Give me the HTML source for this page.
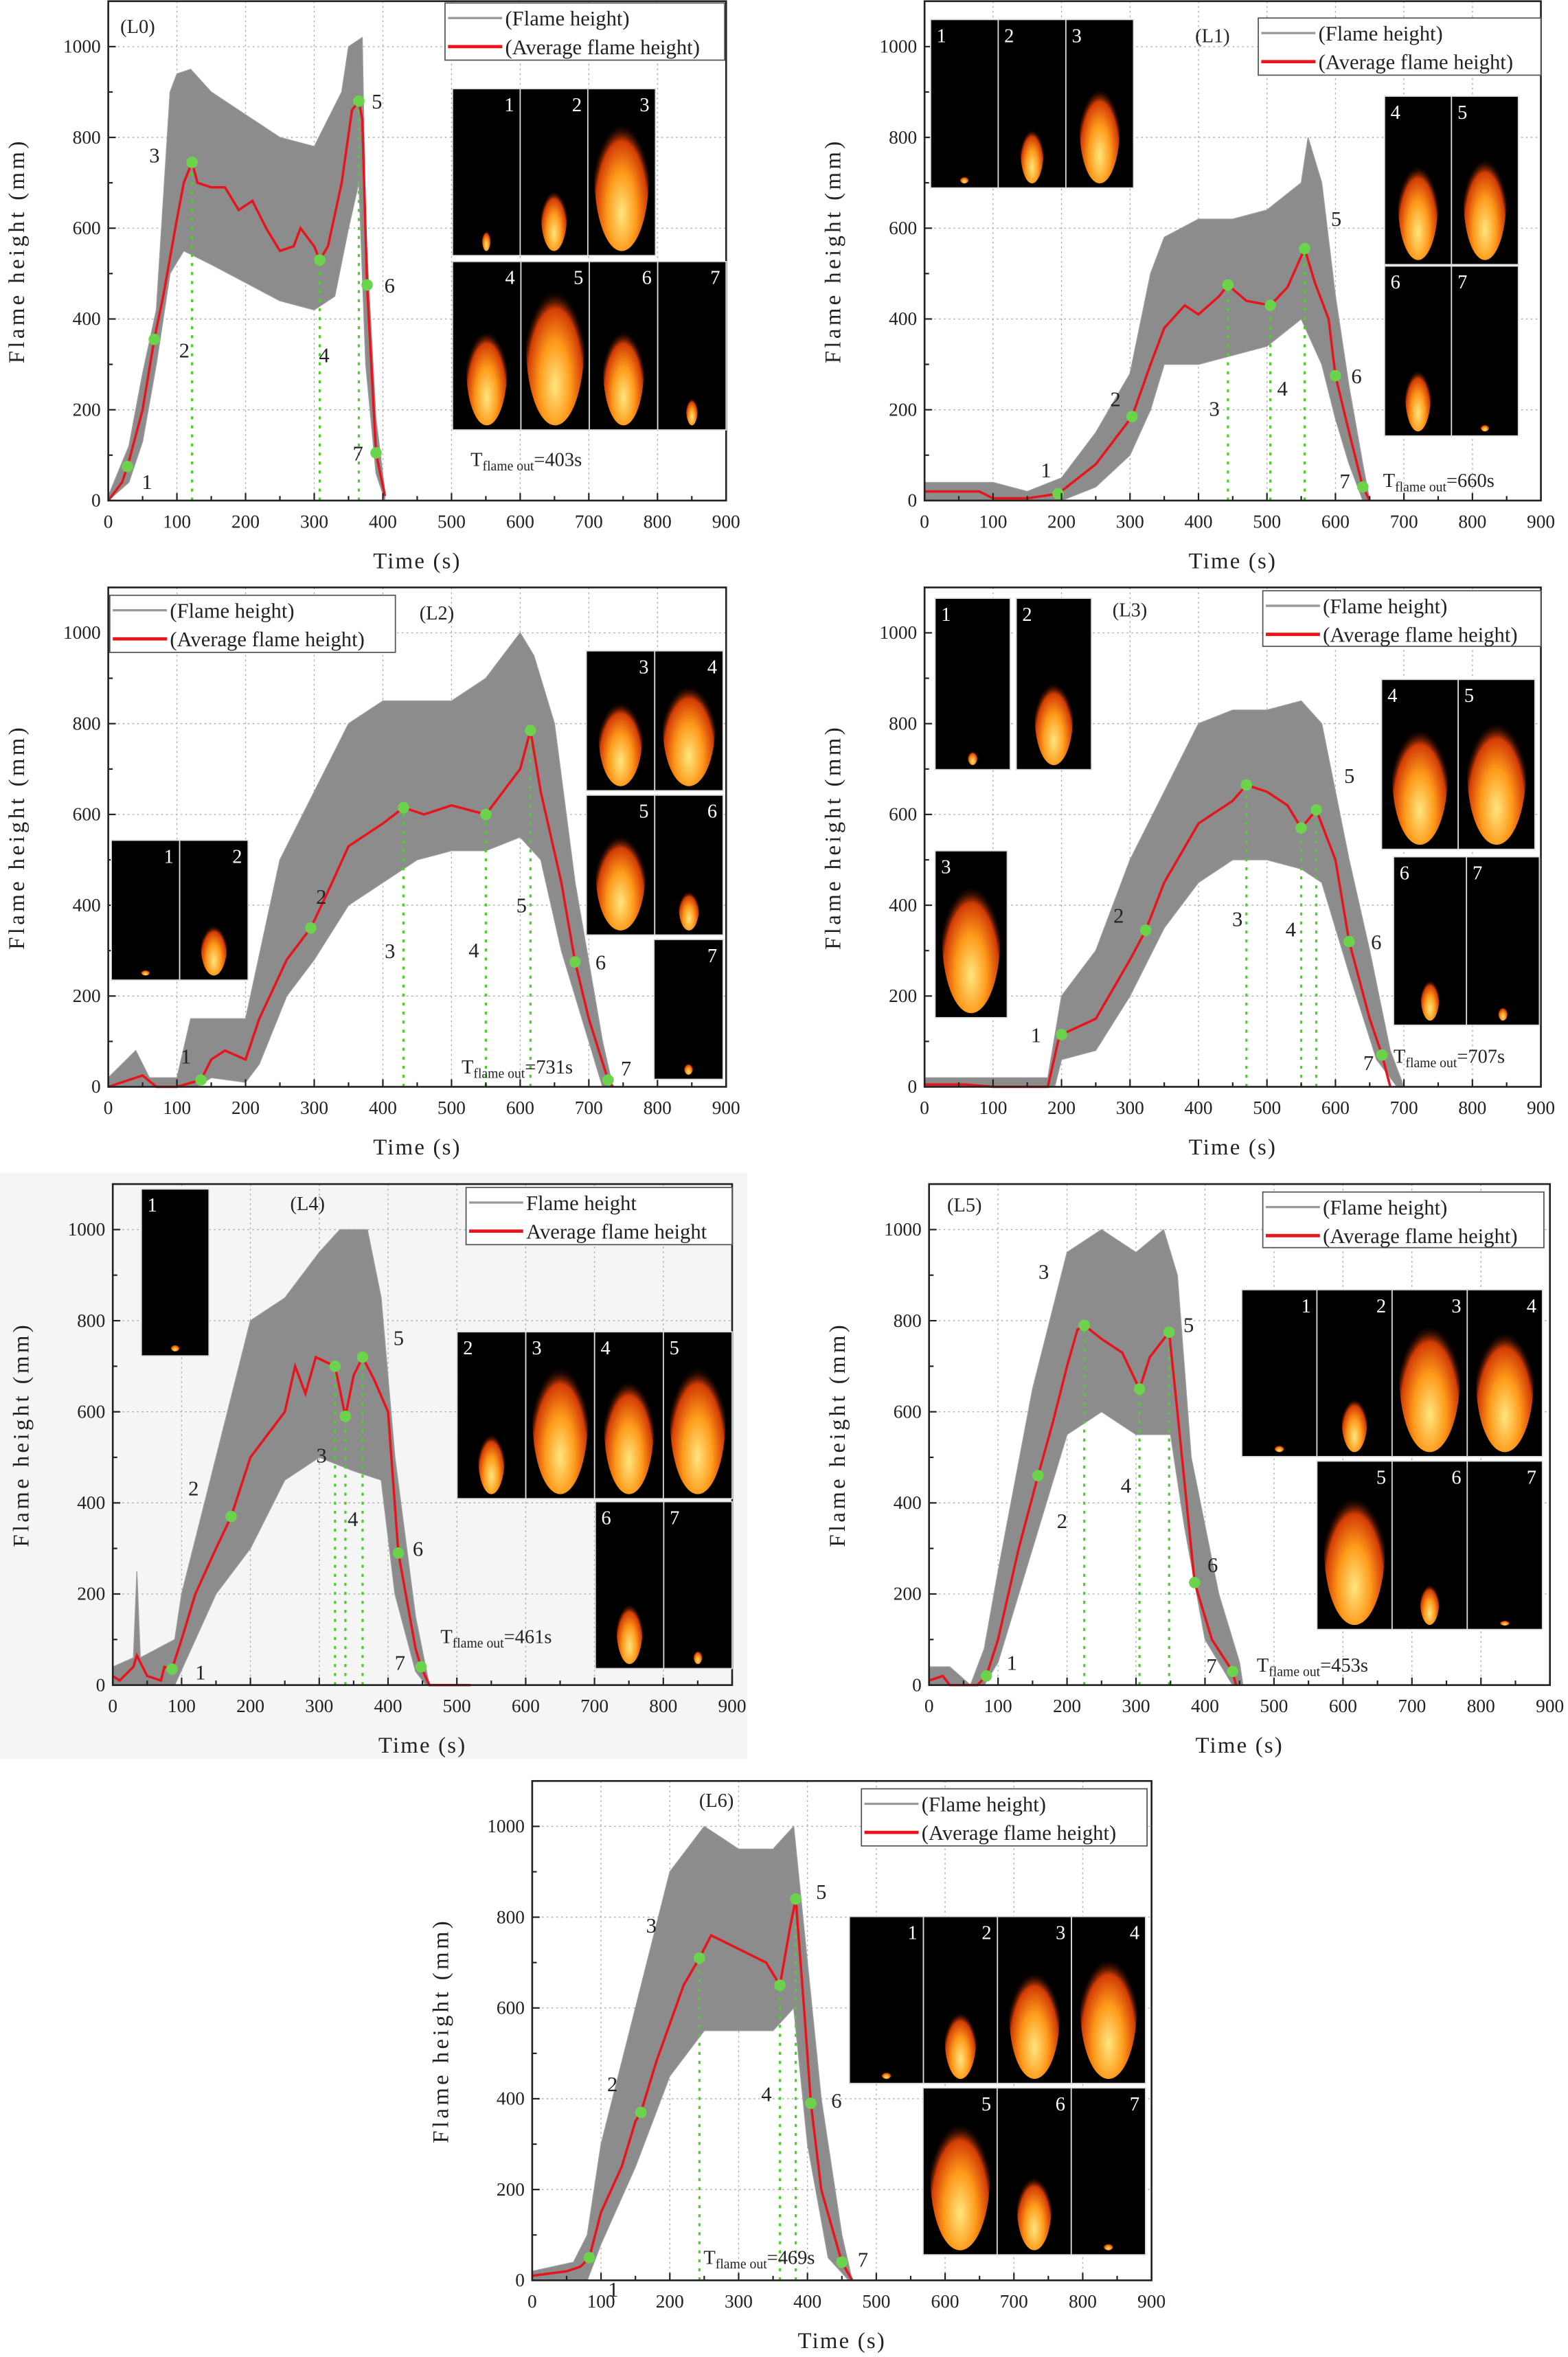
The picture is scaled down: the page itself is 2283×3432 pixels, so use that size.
<!DOCTYPE html>
<html><head><meta charset="utf-8">
<style>
html,body{margin:0;padding:0;background:#fff;}
svg{display:block;}
text{font-family:"Liberation Serif","Noto Serif CJK SC",serif;}
</style></head>
<body>
<svg id="fig" xmlns="http://www.w3.org/2000/svg" width="2283" height="3432" viewBox="0 0 1043 1568">
<defs>
<radialGradient id="fl" cx="50%" cy="75%" r="60%">
<stop offset="0" stop-color="#ffe680"/><stop offset="0.45" stop-color="#ff9a1a"/><stop offset="0.8" stop-color="#d23c05"/><stop offset="1" stop-color="#000" stop-opacity="0"/>
</radialGradient>
</defs>
<rect x="0" y="780" width="497" height="390" fill="#f5f5f5"/>
</svg>
<script>
// ===== data (time s, flame height mm) =====
const l0Avg=[[0,0],[20,40],[28,75],[50,200],[67,355],[80,450],[100,620],[110,700],[122,745],[130,700],[150,690],[170,690],[190,640],[210,660],[230,600],[250,550],[270,560],[280,600],[300,560],[308,530],[320,560],[340,700],[355,860],[365,880],[370,840],[377,475],[390,105],[403,10]];
const l0Hi=[[0,10],[30,120],[50,280],[70,420],[90,900],[100,940],[120,950],[150,900],[200,850],[250,800],[300,780],[340,900],[350,1000],[370,1020],[375,600],[390,180],[403,20]];
const l0Lo=[[0,0],[30,40],[50,130],[70,300],[90,500],[110,550],[150,520],[200,480],[250,440],[300,420],[330,450],[350,600],[365,700],[375,300],[390,60],[403,0]];
const l0Pts=[[28,75],[67,355],[122,745],[308,530],[365,880],[377,475],[390,105]];
const l0Dash=[122,308,365];

const l1Avg=[[0,20],[80,20],[100,5],[150,5],[195,15],[250,80],[303,185],[330,300],[350,380],[380,430],[400,410],[430,450],[443,475],[470,440],[505,430],[530,470],[555,555],[570,480],[590,400],[600,275],[620,150],[640,30],[650,0]];
const l1Hi=[[0,40],[100,40],[150,20],[200,50],[250,150],[300,280],[330,500],[350,580],[400,620],[450,620],[500,640],[550,700],[560,800],[580,700],[600,450],[620,250],[640,80],[650,0]];
const l1Lo=[[0,0],[150,0],[200,0],[250,30],[300,100],[330,200],[350,300],[400,300],[450,320],[500,340],[550,400],[580,300],[600,180],[620,80],[640,0]];
const l1Pts=[[195,15],[303,185],[443,475],[505,430],[555,555],[600,275],[640,30]];
const l1Dash=[443,505,555];

const l2Avg=[[0,0],[20,10],[50,25],[70,0],[100,0],[135,15],[150,60],[170,80],[200,60],[220,150],[260,280],[295,350],[320,430],[350,530],[380,560],[400,580],[430,615],[460,600],[500,620],[550,600],[580,660],[600,700],[615,785],[630,650],[660,450],[680,275],[700,150],[728,15],[735,0]];
const l2Hi=[[0,20],[40,80],[60,20],[100,20],[120,150],[150,150],[200,150],[250,500],[300,650],[350,800],[400,850],[450,850],[500,850],[550,900],[600,1000],[620,950],[650,800],[680,450],[720,100],[735,0]];
const l2Lo=[[0,0],[130,0],[150,20],[200,10],[220,50],[260,200],[300,280],[350,400],[400,450],[450,500],[500,520],[550,520],[600,550],[630,500],[660,300],[690,150],[720,0]];
const l2Pts=[[135,15],[295,350],[430,615],[550,600],[615,785],[680,275],[728,15]];
const l2Dash=[430,550,615];

const l3Avg=[[0,5],[60,5],[100,0],[180,0],[195,100],[200,115],[250,150],[300,280],[323,345],[350,450],[400,580],[450,630],[470,665],[500,650],[530,620],[550,570],[572,610],[600,500],[620,320],[650,150],[668,70],[680,0]];
const l3Hi=[[0,20],[100,20],[180,20],[200,200],[250,300],[300,500],[350,650],[400,800],[450,830],[500,830],[550,850],[580,800],[620,500],[650,300],[680,80],[700,0]];
const l3Lo=[[0,0],[190,0],[200,60],[250,80],[300,200],[350,350],[400,450],[450,500],[500,500],[550,480],[580,450],[620,250],[660,60],[690,0]];
const l3Pts=[[200,115],[323,345],[470,665],[550,570],[572,610],[620,320],[668,70]];
const l3Dash=[470,550,572];

const l4Avg=[[0,20],[10,10],[30,40],[35,65],[50,20],[70,10],[75,40],[86,35],[100,100],[120,200],[150,300],[172,370],[200,500],[250,600],[265,700],[280,640],[295,720],[323,700],[338,590],[350,680],[363,720],[380,670],[400,600],[415,290],[440,80],[448,40],[460,0],[520,0]];
const l4Hi=[[0,40],[30,60],[35,250],[40,60],[90,100],[100,200],[150,500],[200,800],[250,850],[300,950],[330,1000],[370,1000],[390,850],[410,500],[440,150],[460,0]];
const l4Lo=[[0,0],[90,0],[120,100],[150,200],[200,300],[250,450],[300,500],[350,470],[390,450],[410,200],[440,30],[455,0]];
const l4Pts=[[86,35],[172,370],[323,700],[338,590],[363,720],[415,290],[448,40]];
const l4Dash=[323,338,363];

const l5Avg=[[0,10],[20,20],[30,0],[70,0],[83,20],[100,100],[130,300],[158,460],[180,580],[200,700],[215,780],[225,790],[250,760],[280,730],[305,650],[320,720],[348,775],[360,600],[380,300],[385,225],[410,100],[440,30],[445,0]];
const l5Hi=[[0,40],[30,40],[60,0],[80,80],[100,250],[150,650],[200,950],[250,1000],[300,950],[340,1000],[360,900],[380,500],[420,200],[450,50],[455,0]];
const l5Lo=[[0,0],[80,0],[100,50],[150,300],[200,550],[250,600],[300,550],[350,550],[370,350],[400,100],[440,0]];
const l5Pts=[[83,20],[158,460],[225,790],[305,650],[348,775],[385,225],[440,30]];
const l5Dash=[225,305,348];

const l6Avg=[[0,10],[50,20],[70,30],[83,50],[100,150],[130,250],[150,350],[158,370],[180,480],[220,650],[243,710],[260,760],[300,730],[340,700],[360,650],[375,780],[383,840],[395,600],[405,390],[420,200],[450,40],[465,0]];
const l6Hi=[[0,20],[60,40],[80,100],[100,300],[150,600],[200,900],[250,1000],[300,950],[350,950],[380,1000],[400,700],[420,400],[450,100],[465,0]];
const l6Lo=[[0,0],[80,0],[100,80],[150,250],[200,450],[250,550],[300,550],[350,550],[380,600],[400,300],[430,50],[460,0]];
const l6Pts=[[83,50],[158,370],[243,710],[360,650],[383,840],[405,390],[450,40]];
const l6Dash=[243,360,383];

const xTicks=[0,100,200,300,400,500,600,700,800,900];
const yTicks=[0,200,400,600,800,1000];
const flameOut=["403s","660s","731s","707s","461s","453s","469s"];

// ===== layout =====
const NS="http://www.w3.org/2000/svg";
const svg=document.getElementById('fig');
function el(tag,attrs,parent,txt){const e=document.createElementNS(NS,tag);for(const k in attrs)e.setAttribute(k,attrs[k]);if(txt!==undefined)e.textContent=txt;(parent||svg).appendChild(e);return e;}

const panels=[
 {id:'l0',x0:72,x9:483,y0:333,y1:31,avg:l0Avg,hi:l0Hi,lo:l0Lo,pts:l0Pts,dash:l0Dash,lab:[[13,10],[20,7],[-25,-5],[3,63],[12,0],[15,0],[-12,0]],
  title:[80,22],leg:[296,2,186,38],paren:true,tf:[313,310],
  ins:[[301,59,45,111,'1',0.15,'r'],[346,59,45,111,'2',0.45,'r'],[391,59,45,111,'3',0.95,'r'],[301,174,45.5,112,'4',0.7,'r'],[346.5,174,45.5,112,'5',1,'r'],[392,174,45.5,112,'6',0.7,'r'],[437.5,174,45.5,112,'7',0.2,'r']]},
 {id:'l1',x0:615,x9:1025,y0:333,y1:31,avg:l1Avg,hi:l1Hi,lo:l1Lo,pts:l1Pts,dash:l1Dash,lab:[[-8,-16],[-11,-12],[-9,82],[8,55],[21,-20],[14,0],[-12,-4]],
  title:[795,28],leg:[837,12,188,38],paren:true,tf:[920,324],
  ins:[[619,13,45,112,'1',0.05,'l'],[664,13,45,112,'2',0.4,'l'],[709,13,45,112,'3',0.7,'l'],[921,64,44.5,112,'4',0.7,'l'],[965.5,64,44.5,112,'5',0.75,'l'],[921,177,44.5,113,'6',0.45,'l'],[965.5,177,44.5,113,'7',0.05,'l']]},
 {id:'l2',x0:72,x9:483,y0:723,y1:421,avg:l2Avg,hi:l2Hi,lo:l2Lo,pts:l2Pts,dash:l2Dash,lab:[[-10,-16],[7,-21],[-9,95],[-8,90],[-6,116],[17,0],[12,-8]],
  title:[279,412],leg:[73,396,190,38],paren:true,tf:[307,714],
  ins:[[74,559,45.5,93,'1',0.05,'r'],[119.5,559,45.5,93,'2',0.45,'r'],[390,433,45.5,93,'3',0.75,'r'],[435.5,433,45.5,93,'4',0.9,'r'],[390,529,45.5,93,'5',0.85,'r'],[435.5,529,45.5,93,'6',0.35,'r'],[435,625,46,93,'7',0.1,'r']]},
 {id:'l3',x0:615,x9:1025,y0:723,y1:421,avg:l3Avg,hi:l3Hi,lo:l3Lo,pts:l3Pts,dash:l3Dash,lab:[[-17,0],[-18,-10],[-6,89],[-7,67],[22,-23],[18,0],[-9,5]],
  title:[740,410],leg:[840,393,185,37],paren:true,tf:[927,707],
  ins:[[622,398,50,114,'1',0.1,'l'],[676,398,50,114,'2',0.6,'l'],[622,566,48,111,'3',0.95,'l'],[919,452,51,113,'4',0.85,'l'],[970,452,51,113,'5',0.9,'l'],[927,570,48.5,112,'6',0.3,'l'],[975.5,570,48.5,112,'7',0.1,'l']]},
 {id:'l4',x0:75,x9:487,y0:1121,y1:818,avg:l4Avg,hi:l4Hi,lo:l4Lo,pts:l4Pts,dash:l4Dash,lab:[[19,2],[-25,-19],[-9,59],[5,68],[24,-13],[13,-3],[-14,-3]],
  title:[193,805],leg:[310,790,177,38],paren:false,tf:[293,1093],
  ins:[[94,791,45,111,'1',0.05,'l'],[304,886,45.75,111,'2',0.45,'l'],[349.75,886,45.75,111,'3',0.95,'l'],[395.5,886,45.75,111,'4',0.85,'l'],[441.25,886,45.75,111,'5',0.95,'l'],[396,999,45.5,111,'6',0.45,'l'],[441.5,999,45.5,111,'7',0.1,'l']]},
 {id:'l5',x0:618,x9:1031,y0:1121,y1:818,avg:l5Avg,hi:l5Hi,lo:l5Lo,pts:l5Pts,dash:l5Dash,lab:[[17,-9],[16,30],[-27,-36],[-9,64],[13,-5],[12,-12],[-14,-4]],
  title:[630,806],leg:[840,793,187,37],paren:true,tf:[836,1112],
  ins:[[826,858,50,111,'1',0.05,'r'],[876,858,50,111,'2',0.4,'r'],[926,858,50,111,'3',0.95,'r'],[976,858,50,111,'4',0.9,'r'],[876,972,50,112,'5',0.95,'r'],[926,972,50,112,'6',0.3,'r'],[976,972,50,112,'7',0.03,'r']]},
 {id:'l6',x0:354,x9:766,y0:1517,y1:1215,avg:l6Avg,hi:l6Hi,lo:l6Lo,pts:l6Pts,dash:l6Dash,lab:[[16,21],[-19,-19],[-32,-22],[-9,72],[17,-5],[17,-2],[14,-2]],
  title:[465,1202],leg:[573,1190,190,38],paren:true,tf:[468,1506],
  ins:[[565,1275,49.25,111,'1',0.05,'r'],[614.25,1275,49.25,111,'2',0.5,'r'],[663.5,1275,49.25,111,'3',0.8,'r'],[712.75,1275,49.25,111,'4',0.9,'r'],[614,1389,49.3,111,'5',0.95,'r'],[663.3,1389,49.3,111,'6',0.55,'r'],[712.6,1389,49.4,111,'7',0.05,'r']]}
];

panels.forEach(p=>{
 const sx=t=>p.x0+t*(p.x9-p.x0)/900;
 const sy=v=>p.y0-v*(p.y0-p.y1)/1000;
 const g=el('g',{});
 
 
 const top=sy(1100);
 // grid
 xTicks.slice(1,-1).forEach(t=>{const l=el('line',{x1:sx(t),x2:sx(t),y1:top,y2:p.y0,stroke:'#aaa','stroke-width':0.6,'stroke-dasharray':'1.2,2'},g);
  });
 yTicks.slice(1).forEach(v=>{const l=el('line',{x1:p.x0,x2:p.x9,y1:sy(v),y2:sy(v),stroke:'#aaa','stroke-width':0.6,'stroke-dasharray':'1.2,2'},g);
  });
 // band
 const band=p.hi.map(d=>sx(d[0])+','+sy(d[1])).concat(p.lo.slice().reverse().map(d=>sx(d[0])+','+sy(d[1]))).join(' ');
 const b=el('polygon',{points:band,fill:'#8c8c8c',stroke:'#9a9a9a','stroke-width':0.6},g);
 
 // dashed verticals
 p.dash.forEach(t=>{const pt=p.pts.find(q=>q[0]===t);const vv=pt?pt[1]:0;
  const l=el('line',{x1:sx(t),x2:sx(t),y1:p.y0,y2:sy(vv),stroke:'#4cd12a','stroke-width':1.5,'stroke-dasharray':'2,4'},g);
  });
 // avg line
 const a=el('polyline',{points:p.avg.map(d=>sx(d[0])+','+sy(d[1])).join(' '),fill:'none',stroke:'#e8141b','stroke-width':1.6},g);
 
 // points
 p.pts.forEach((d,i)=>{const c=el('circle',{cx:sx(d[0]),cy:sy(d[1]),r:3.8,fill:'#6cd44c'},g);
  
  const o=p.lab[i];const t=el('text',{x:sx(d[0])+o[0],y:sy(d[1])+o[1]+5,'font-size':14,'text-anchor':'middle',fill:'#222'},g,String(i+1));
  });
 // frame
 const f=el('rect',{x:p.x0,y:top,width:p.x9-p.x0,height:p.y0-top,fill:'none',stroke:'#222','stroke-width':1.2},g);
 
 // ticks
 for(let t=0;t<=900;t+=50){const l=el('line',{x1:sx(t),x2:sx(t),y1:p.y0,y2:p.y0-(t%100?3:5),stroke:'#222','stroke-width':1},g);
  }
 for(let v=0;v<=1100;v+=100){const l=el('line',{x1:p.x0,x2:p.x0+(v%200?3:5),y1:sy(v),y2:sy(v),stroke:'#222','stroke-width':1},g);
  }
 xTicks.forEach(t=>{const tx=el('text',{x:sx(t),y:p.y0+18,'font-size':12.5,'text-anchor':'middle',fill:'#222'},g,String(t));
  });
 yTicks.forEach(v=>{const tx=el('text',{x:p.x0-5,y:sy(v)+4,'font-size':12.5,'text-anchor':'end',fill:'#222'},g,String(v));
  });
 const xt=el('text',{x:(p.x0+p.x9)/2,y:p.y0+45,'font-size':15,'text-anchor':'middle',fill:'#222','letter-spacing':1},g,'Time (s)');
 
 const yc=(p.y0+top)/2;
 const yt=el('text',{x:p.x0-56,y:yc,'font-size':15,'text-anchor':'middle',fill:'#222','letter-spacing':2,transform:'rotate(-90 '+(p.x0-56)+' '+yc+')'},g,'Flame height (mm)');
 
 const tl=el('text',{x:p.title[0],y:p.title[1],'font-size':13,fill:'#222'},g,'('+p.id.toUpperCase()+')');
 
 // flame out annotation
 const tf=el('text',{x:p.tf[0],y:p.tf[1],'font-size':13,fill:'#222'},g);
 
 el('tspan',{},tf,'T');el('tspan',{'font-size':9,dy:3},tf,'flame out');el('tspan',{dy:-3},tf,'='+flameOut[panels.indexOf(p)]);
 // legend
 const L=p.leg;const lg=el('g',{},g);
 
 el('rect',{x:L[0],y:L[1],width:L[2],height:L[3],fill:'#fff',stroke:'#555','stroke-width':0.8},lg);
 el('line',{x1:L[0]+2,x2:L[0]+38,y1:L[1]+10,y2:L[1]+10,stroke:'#999','stroke-width':1.5},lg);
 el('line',{x1:L[0]+2,x2:L[0]+38,y1:L[1]+29,y2:L[1]+29,stroke:'#e8141b','stroke-width':2.2},lg);
 const e1=el('text',{x:L[0]+40,y:L[1]+15,'font-size':14,fill:'#222'},lg,p.paren?'(Flame height)':'Flame height');
 
 const e2=el('text',{x:L[0]+40,y:L[1]+34,'font-size':14,fill:'#222'},lg,p.paren?'(Average flame height)':'Average flame height');
 
 // photo insets
 p.ins.forEach(r=>{const ig=el('g',{},g);
  
  el('rect',{x:r[0],y:r[1],width:r[2],height:r[3],fill:'#000',stroke:'#ddd','stroke-width':0.8},ig);
  const s=r[5];const fw=r[2]*0.85*Math.max(s,0.15),fh=r[3]*0.95*s;
  el('ellipse',{cx:r[0]+r[2]/2,cy:r[1]+r[3]-fh/2-3,rx:fw/2,ry:Math.max(fh/2,2),fill:'url(#fl)'},ig);
  el('text',{x:r[6]==='r'?r[0]+r[2]-4:r[0]+4,y:r[1]+15,'font-size':13,fill:'#fff','text-anchor':r[6]==='r'?'end':'start'},ig,r[4]);
 });
});
</script>
</body></html>
